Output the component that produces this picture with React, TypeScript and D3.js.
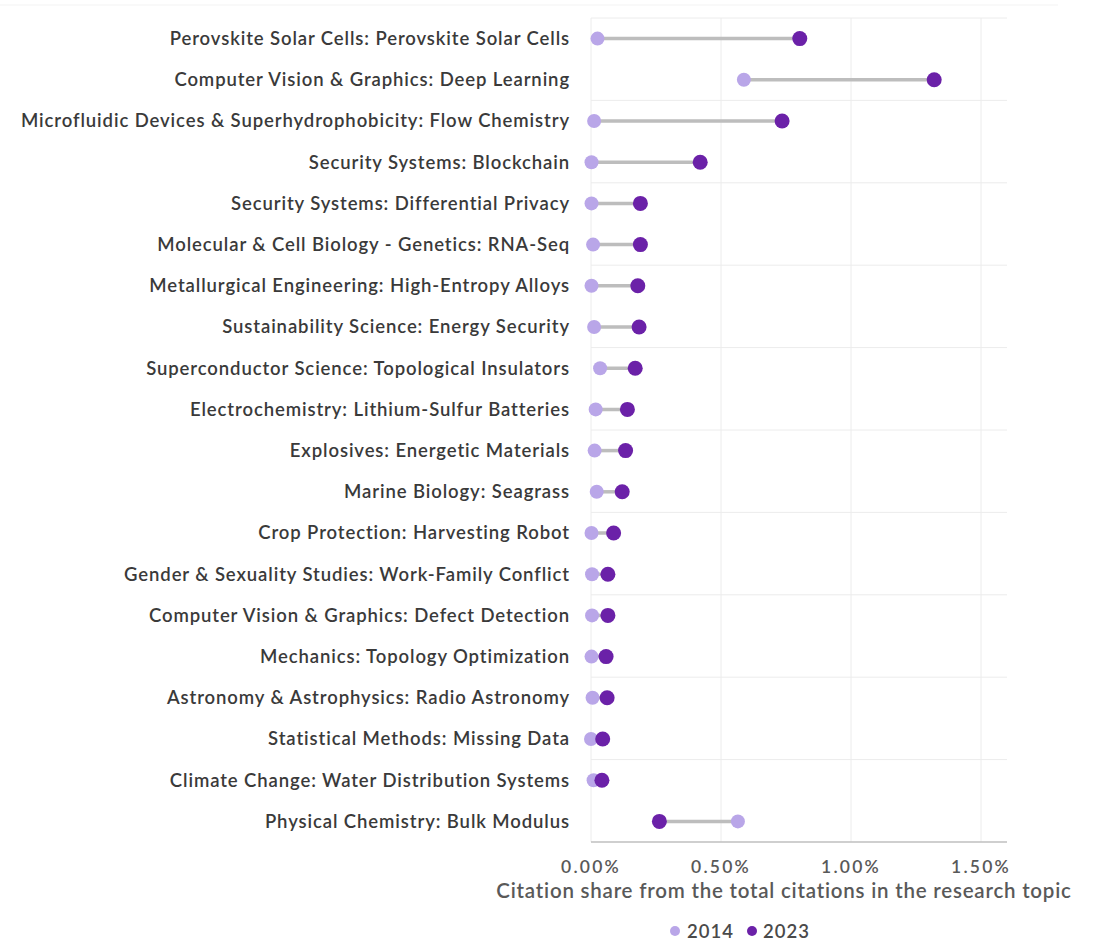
import React from "react";
import * as d3 from "d3";

const categories: string[] = [
  "Perovskite Solar Cells: Perovskite Solar Cells",
  "Computer Vision & Graphics: Deep Learning",
  "Microfluidic Devices & Superhydrophobicity: Flow Chemistry",
  "Security Systems: Blockchain",
  "Security Systems: Differential Privacy",
  "Molecular & Cell Biology - Genetics: RNA-Seq",
  "Metallurgical Engineering: High-Entropy Alloys",
  "Sustainability Science: Energy Security",
  "Superconductor Science: Topological Insulators",
  "Electrochemistry: Lithium-Sulfur Batteries",
  "Explosives: Energetic Materials",
  "Marine Biology: Seagrass",
  "Crop Protection: Harvesting Robot",
  "Gender & Sexuality Studies: Work-Family Conflict",
  "Computer Vision & Graphics: Defect Detection",
  "Mechanics: Topology Optimization",
  "Astronomy & Astrophysics: Radio Astronomy",
  "Statistical Methods: Missing Data",
  "Climate Change: Water Distribution Systems",
  "Physical Chemistry: Bulk Modulus",
];

const values2014: number[] = [
  0.025, 0.588, 0.012, 0.002, 0.002, 0.008, 0.002, 0.012, 0.035, 0.018,
  0.014, 0.022, 0.002, 0.004, 0.004, 0.002, 0.006, 0.0, 0.01, 0.565,
];

const values2023: number[] = [
  0.803, 1.32, 0.735, 0.42, 0.19, 0.19, 0.18, 0.185, 0.17, 0.14,
  0.133, 0.12, 0.087, 0.065, 0.065, 0.058, 0.062, 0.045, 0.042, 0.263,
];

const xTicks: number[] = [0, 0.5, 1.0, 1.5];
const seriesNames: string[] = ["2014", "2023"];

const W = 1093;
const H = 942;
const C_LIGHT = "#b9a6e8";
const C_DARK = "#6b21a8";
const FONT = "Lato, 'Open Sans', sans-serif";

export default function App() {
  const x = d3.scaleLinear().domain([0, 1.6]).range([591, 1007]);
  const y = d3.scaleBand<string>().domain(categories).range([18, 842]).padding(0);
  const bw = y.bandwidth();
  const fmt = (v: number) => d3.format(".2f")(v) + "%";
  const hLines = d3.range(0, categories.length, 2).map((i) => y(categories[i])!);
  const legendPos = [
    { dot: 675, text: 687 },
    { dot: 752, text: 763 },
  ];

  return (
    <div style={{ position: "absolute", left: 0, top: 0 }}>
      <svg width={W} height={H} style={{ display: "block", background: "#fff" }}>
        <line x1={0} x2={1058} y1={5} y2={5} stroke="#f3f3f3" strokeWidth={1} />
        {hLines.map((yy, i) => (
          <line key={"h" + i} x1={x(0)} x2={x(1.6)} y1={yy} y2={yy} stroke="#ececec" strokeWidth={1} />
        ))}
        {xTicks.map((t) => (
          <line key={"v" + t} x1={x(t)} x2={x(t)} y1={18} y2={842} stroke="#ececec" strokeWidth={1} />
        ))}
        <line x1={x(0)} x2={x(1.6)} y1={842} y2={842} stroke="#bfbfbf" strokeWidth={1.5} />
        {xTicks.map((t) => (
          <text key={"t" + t} x={x(t)} y={873} textAnchor="middle" fontFamily={FONT} fontSize={17.5} letterSpacing={2.2} fontWeight={600} fill="#595959">
            {fmt(t)}
          </text>
        ))}
        <text x={784} y={898} textAnchor="middle" fontFamily={FONT} fontSize={20.5} letterSpacing={0.78} fontWeight={600} fill="#595959">
          Citation share from the total citations in the research topic
        </text>
        {categories.map((c, i) => {
          const cy = y(c)! + bw / 2;
          const a = values2014[i];
          const b = values2023[i];
          return (
            <g key={c}>
              <text x={570} y={cy} dy="0.35em" textAnchor="end" fontFamily={FONT} fontSize={18.5} letterSpacing={0.9} fontWeight={600} fill="#3a3a3a">
                {c}
              </text>
              <line x1={x(a)} x2={x(b)} y1={cy} y2={cy} stroke="#bdbdbd" strokeWidth={3.5} />
              <circle cx={x(a)} cy={cy} r={7} fill={C_LIGHT} />
              <circle cx={x(b)} cy={cy} r={7.5} fill={C_DARK} />
            </g>
          );
        })}
        {seriesNames.map((s, i) => (
          <g key={s}>
            <circle cx={legendPos[i].dot} cy={931} r={5} fill={i === 0 ? C_LIGHT : C_DARK} />
            <text x={legendPos[i].text} y={938} fontFamily={FONT} fontSize={18.5} letterSpacing={1} fontWeight={600} fill="#4a4a4a">
              {s}
            </text>
          </g>
        ))}
      </svg>
    </div>
  );
}
